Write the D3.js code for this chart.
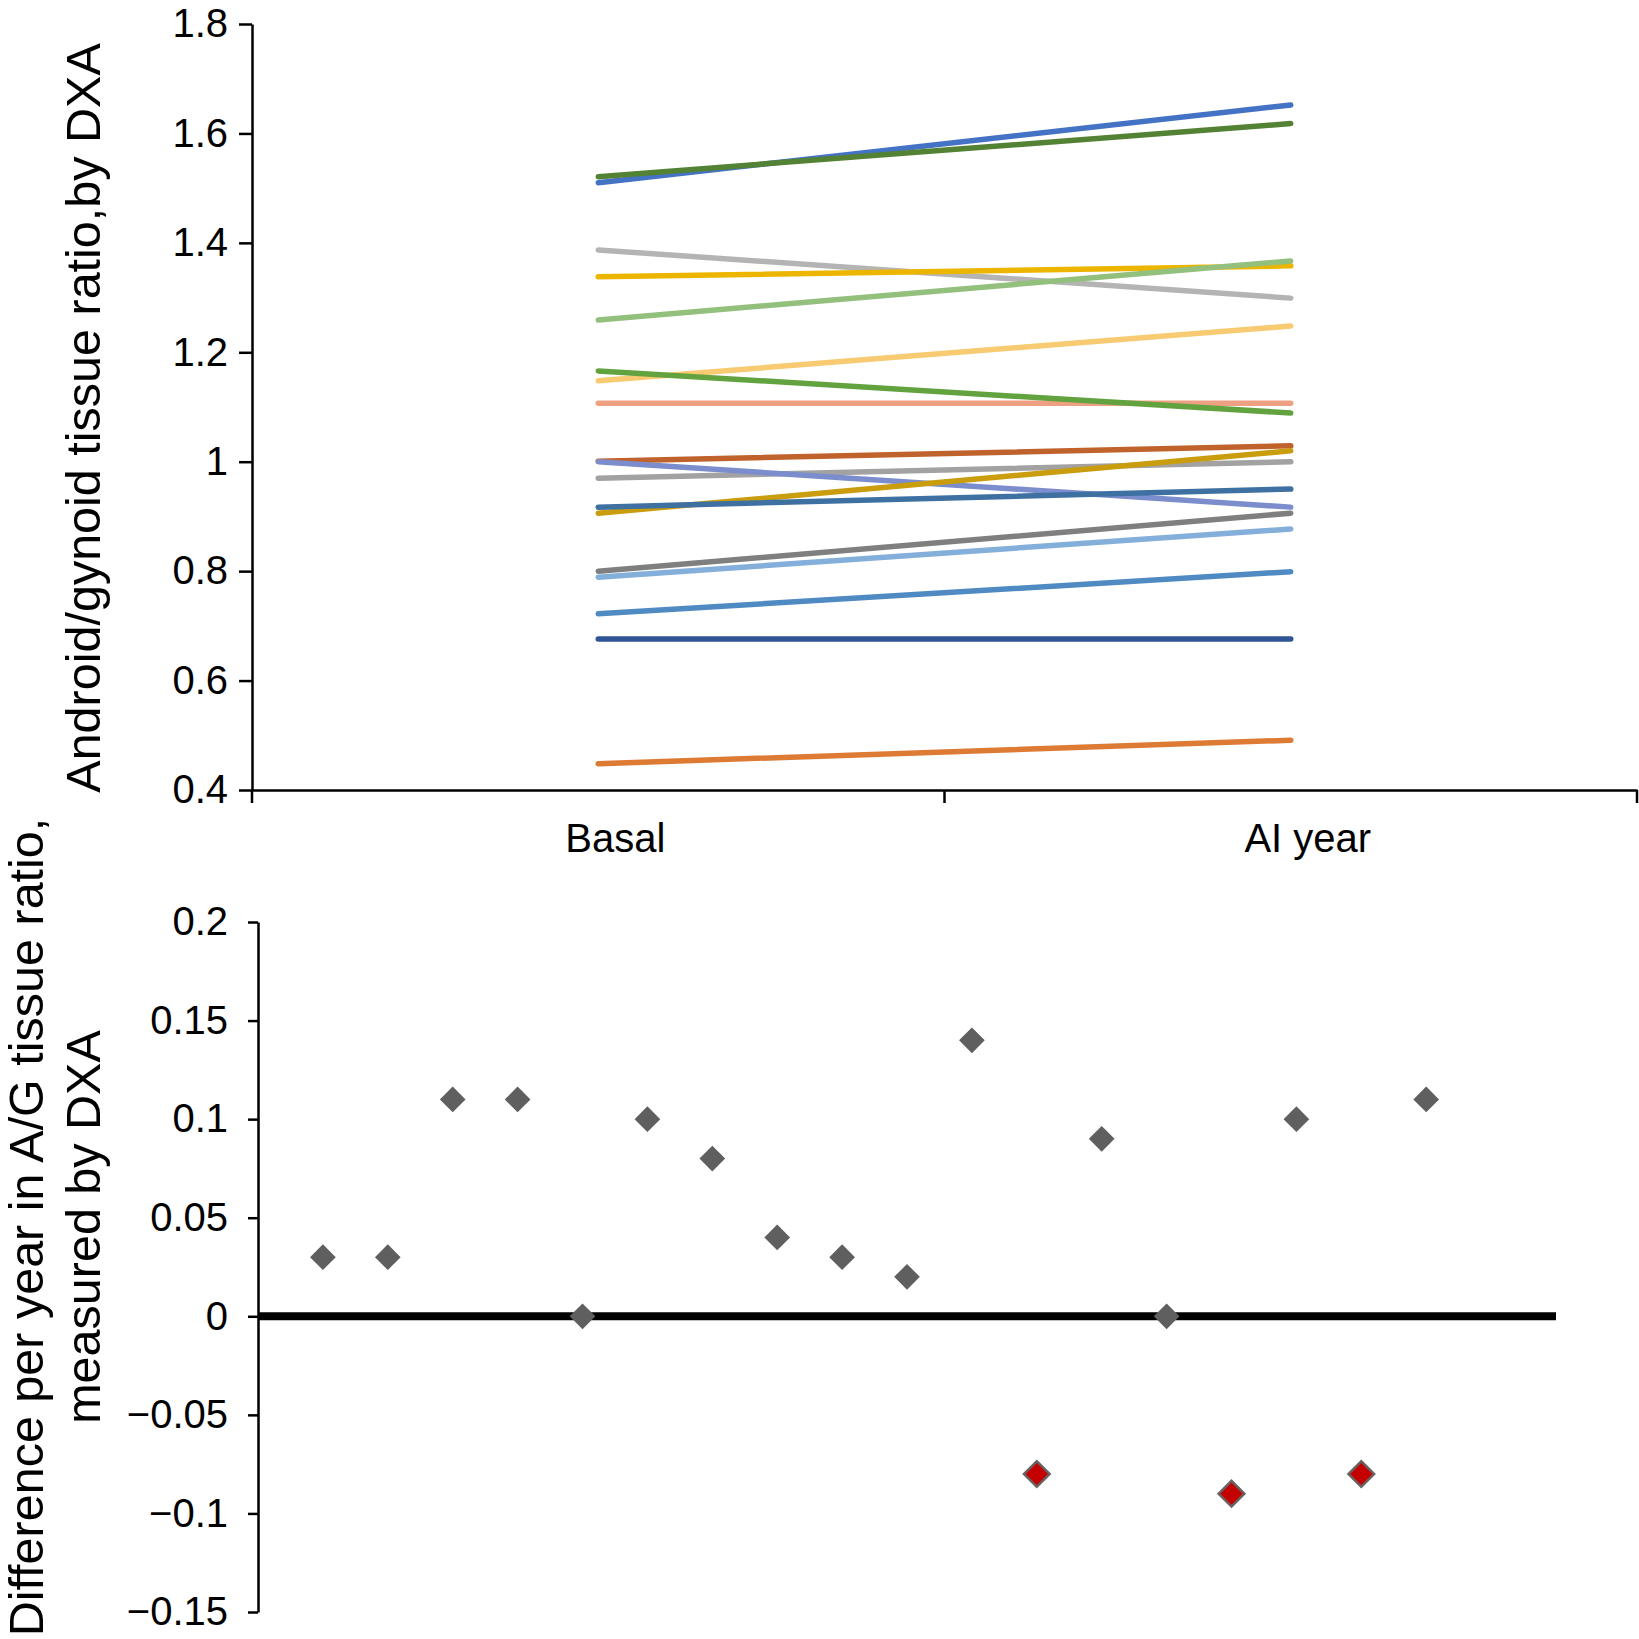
<!DOCTYPE html>
<html>
<head>
<meta charset="utf-8">
<script src="https://cdn.jsdelivr.net/npm/d3@7"></script>
<style>
  body { margin: 0; background: #fff; }
  text { font-family: "Liberation Sans", Arial, sans-serif; fill: #000; }
</style>
</head>
<body>
<svg width="1639" height="1639"></svg>
<script>
// top panel: one line per patient, basal -> after AI year
const categories = ["Basal", "AI year"];
const basal  = [1.51, 1.521, 1.387, 1.338, 1.259, 1.148, 1.107, 1.166, 1.001, 0.970, 1.0, 0.906, 0.917, 0.800, 0.789, 0.722, 0.676, 0.448];
const aiYear = [1.652, 1.618, 1.299, 1.358, 1.367, 1.248, 1.107, 1.089, 1.029, 1.0, 0.917, 1.020, 0.950, 0.906, 0.877, 0.799, 0.676, 0.491];
const lineColors = ["#4472c4", "#548235", "#b4b4b4", "#ecb500", "#93c07c", "#f8cb72", "#eea083", "#63a33f",
                    "#c0622c", "#a2a2a2", "#7b8dcc", "#c99d0e", "#3f70a2", "#7f7f7f", "#84afdb", "#4f8ac3",
                    "#2f5597", "#dd7b35"];
const topTicks = [0.4, 0.6, 0.8, 1, 1.2, 1.4, 1.6, 1.8];

// bottom panel: yearly difference per patient
const patients = d3.range(1, 19);
const diffs = [0.03, 0.03, 0.11, 0.11, 0, 0.10, 0.08, 0.04, 0.03, 0.02, 0.14, -0.08, 0.09, 0, -0.09, 0.10, -0.08, 0.11];
const decreased = [12, 15, 17];
const bottomTicks = [-0.15, -0.1, -0.05, 0, 0.05, 0.1, 0.15, 0.2];

const svg = d3.select("svg");
const fmt = d3.format("");

// ---------- top chart ----------
const y1 = d3.scaleLinear().domain([0.4, 1.8]).range([790, 24]);
const x1 = d3.scaleBand().domain(categories).range([252, 1637]);
const xc = d => x1(d) + x1.bandwidth() / 2;

svg.append("g")
    .attr("transform", "translate(252,0)")
    .call(d3.axisLeft(y1).tickValues(topTicks).tickSize(13).tickPadding(11).tickSizeOuter(0).tickFormat(fmt));

const gx1 = svg.append("g")
    .attr("transform", "translate(0,790)")
    .call(d3.axisBottom(x1).tickSize(0).tickPadding(34).tickSizeOuter(0));
gx1.selectAll(".tick text").attr("dx", 17).style("font-size", "40px");

// boundary ticks between categories
gx1.selectAll("line.edge")
    .data([categories[0], categories[1], null])
    .enter().append("line")
    .attr("x1", d => d === null ? x1.range()[1] : x1(d))
    .attr("x2", d => d === null ? x1.range()[1] : x1(d))
    .attr("y1", 0).attr("y2", 13)
    .attr("stroke", "#000").attr("stroke-width", 2.5);

const lineGen = d3.line().x(d => d[0]).y(d => d[1]);
svg.append("g").selectAll("path")
    .data(basal.map((b, i) => ({ b, a: aiYear[i], c: lineColors[i] })))
    .enter().append("path")
    .attr("d", d => lineGen([[xc(categories[0]), y1(d.b)], [xc(categories[1]), y1(d.a)]]))
    .attr("fill", "none")
    .attr("stroke", d => d.c)
    .attr("stroke-width", 5.5)
    .attr("stroke-linecap", "round");

svg.append("text")
    .attr("transform", "translate(100,418) rotate(-90)")
    .attr("text-anchor", "middle")
    .style("font-size", "48.5px")
    .text("Android/gynoid tissue ratio,by DXA");

// ---------- bottom chart ----------
const y2 = d3.scaleLinear().domain([-0.15, 0.2]).range([1612, 922]);
const x2 = d3.scaleLinear().domain([0, 20]).range([258, 1556]);

svg.append("g")
    .attr("transform", "translate(258,0)")
    .call(d3.axisLeft(y2).tickValues(bottomTicks).tickSize(10).tickPadding(20).tickSizeOuter(0).tickFormat(fmt));

svg.append("line")
    .attr("x1", x2(0)).attr("x2", x2(20))
    .attr("y1", y2(0)).attr("y2", y2(0))
    .attr("stroke", "#000").attr("stroke-width", 8);

const diamond = d3.symbol().type(d3.symbolSquare).size(330);
svg.append("g").selectAll("path")
    .data(patients.map((p, i) => ({ p, v: diffs[i], red: decreased.includes(p) })))
    .enter().append("path")
    .attr("d", diamond)
    .attr("transform", d => `translate(${x2(d.p)},${y2(d.v)}) rotate(45)`)
    .attr("fill", d => d.red ? "#c40000" : "#5f5f5f")
    .attr("stroke", d => d.red ? "#6a6060" : "none")
    .attr("stroke-width", 2.5);

const t2 = svg.append("text")
    .attr("transform", "translate(0,1227) rotate(-90)")
    .attr("text-anchor", "middle")
    .style("font-size", "48.5px");
t2.append("tspan").attr("x", 0).attr("y", 43).text("Difference per year in A/G tissue ratio,");
t2.append("tspan").attr("x", 0).attr("y", 100).text("measured by DXA");

// common axis styling
svg.selectAll(".domain").attr("stroke", "#000").attr("stroke-width", 2.5);
svg.selectAll(".tick line").attr("stroke", "#000").attr("stroke-width", 2.5);
svg.selectAll(".tick text").filter(function () { return !this.style.fontSize; })
    .style("font-size", "40px").attr("fill", "#000");
gx1.selectAll(".tick text").attr("fill", "#000");
</script>
</body>
</html>
